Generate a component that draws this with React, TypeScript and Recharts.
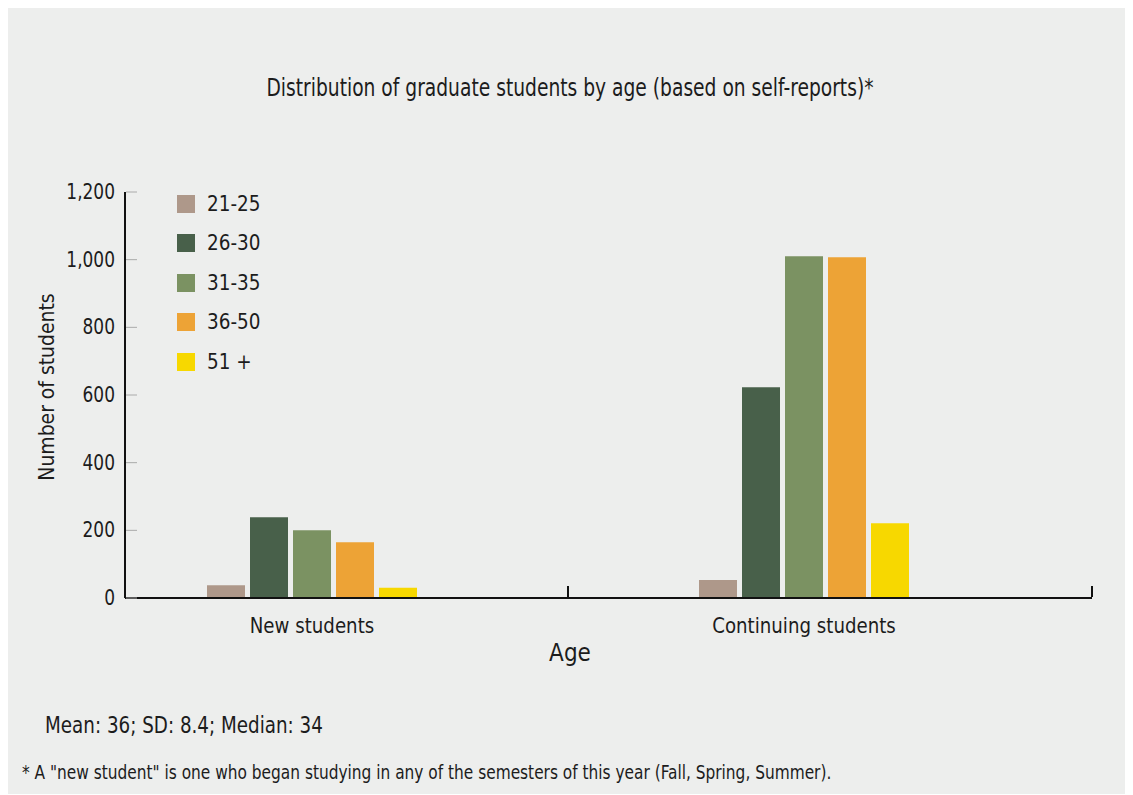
import React from "react";
import { BarChart, Bar, XAxis, YAxis } from "recharts";

const categories = ["New students", "Continuing students"];
const seriesNames = ["21-25", "26-30", "31-35", "36-50", "51 +"];
const seriesColors = ["#ae988a", "#48604a", "#7b9262", "#eda336", "#f7d800"];
const newStudents = [38, 239, 200, 165, 30];
const continuingStudents = [53, 623, 1010, 1007, 221];
const yTicks = [0, 200, 400, 600, 800, 1000, 1200];

const data = categories.map((c, ci) => {
  const row: Record<string, any> = { name: c };
  const vals = ci === 0 ? newStudents : continuingStudents;
  seriesNames.forEach((s, si) => {
    row["s" + si] = vals[si];
  });
  return row;
});

const FONT = '"DejaVu Sans Condensed", "Liberation Sans Narrow", sans-serif';
const TEXT = "#1c1c1c";

const XTick = (props: any) => {
  const { x, y, payload, index } = props;
  const boundary = index === 0 ? 256 : 288;
  return (
    <g>
      <line x1={x + boundary} x2={x + boundary} y1={y - 1} y2={y - 12} stroke="#111" strokeWidth={2} />
      <text
        transform={`translate(${x},${y + 35}) scale(0.92,1)`}
        textAnchor="middle"
        fontFamily={FONT}
        fontSize={22}
        fill={TEXT}
      >
        {payload.value}
      </text>
    </g>
  );
};

const YTick = (props: any) => {
  const { x, y, payload } = props;
  return (
    <g>
      <line x1={x + 1} x2={x + 12} y1={y} y2={y} stroke="#aaa" strokeWidth={1} />
      <text
        transform={`translate(${x - 10},${y + 7}) scale(0.9,1)`}
        textAnchor="end"
        fontFamily={FONT}
        fontSize={21}
        fill={TEXT}
      >
        {Number(payload.value).toLocaleString("en-US")}
      </text>
    </g>
  );
};

export default function App() {
  return (
    <div
      style={{
        position: "relative",
        width: 1125,
        height: 786,
        background: "#edeeed",
        fontFamily: FONT,
        color: TEXT,
      }}
    >
      <div
        style={{
          position: "absolute",
          left: 562,
          top: 66,
          whiteSpace: "nowrap",
          fontSize: 24,
          transform: "translateX(-50%) scaleX(0.865)",
        }}
      >
        Distribution of graduate students by age (based on self-reports)*
      </div>
      <BarChart
        width={1125}
        height={786}
        data={data}
        margin={{ top: 184, right: 41, bottom: 166, left: 57 }}
        barSize={38}
        barGap={5}
        style={{ position: "absolute", left: 0, top: 0 }}
      >
        <XAxis
          dataKey="name"
          height={30}
          padding={{ left: -59, right: 42 }}
          axisLine={{ stroke: "#111", strokeWidth: 2 }}
          tickLine={false}
          tickSize={0}
          tickMargin={0}
          tick={<XTick />}
          interval={0}
        />
        <YAxis
          width={60}
          domain={[0, 1200]}
          ticks={yTicks}
          interval={0}
          axisLine={{ stroke: "#111", strokeWidth: 2 }}
          tickLine={false}
          tickSize={0}
          tickMargin={0}
          tick={<YTick />}
        />
        {seriesNames.map((s, si) => (
          <Bar key={s} dataKey={"s" + si} name={s} fill={seriesColors[si]} isAnimationActive={false} />
        ))}
      </BarChart>
      <div style={{ position: "absolute", left: 169, top: 176 }}>
        {seriesNames.map((s, si) => (
          <div key={s} style={{ display: "flex", alignItems: "center", height: 39.5 }}>
            <div style={{ width: 18, height: 18, background: seriesColors[si], marginRight: 12 }} />
            <span
              style={{
                fontSize: 22,
                lineHeight: "20px",
                display: "inline-block",
                transform: "scaleX(0.93)",
                transformOrigin: "left center",
              }}
            >
              {s}
            </span>
          </div>
        ))}
      </div>
      <div
        style={{
          position: "absolute",
          left: 38,
          top: 379,
          transform: "translate(-50%, -50%) rotate(-90deg) scaleX(0.95)",
          whiteSpace: "nowrap",
          fontSize: 22,
        }}
      >
        Number of students
      </div>
      <div
        style={{
          position: "absolute",
          left: 562,
          top: 645,
          transform: "translate(-50%, -50%)",
          fontSize: 24,
        }}
      >
        Age
      </div>
      <div
        style={{
          position: "absolute",
          left: 37,
          top: 704,
          fontSize: 23,
          whiteSpace: "nowrap",
          transform: "scaleX(0.885)",
          transformOrigin: "left top",
        }}
      >
        Mean: 36; SD: 8.4; Median: 34
      </div>
      <div
        style={{
          position: "absolute",
          left: 14,
          top: 753,
          fontSize: 19,
          whiteSpace: "nowrap",
          transform: "scaleX(0.9)",
          transformOrigin: "left top",
        }}
      >
        * A "new student" is one who began studying in any of the semesters of this year (Fall, Spring, Summer).
      </div>
    </div>
  );
}
